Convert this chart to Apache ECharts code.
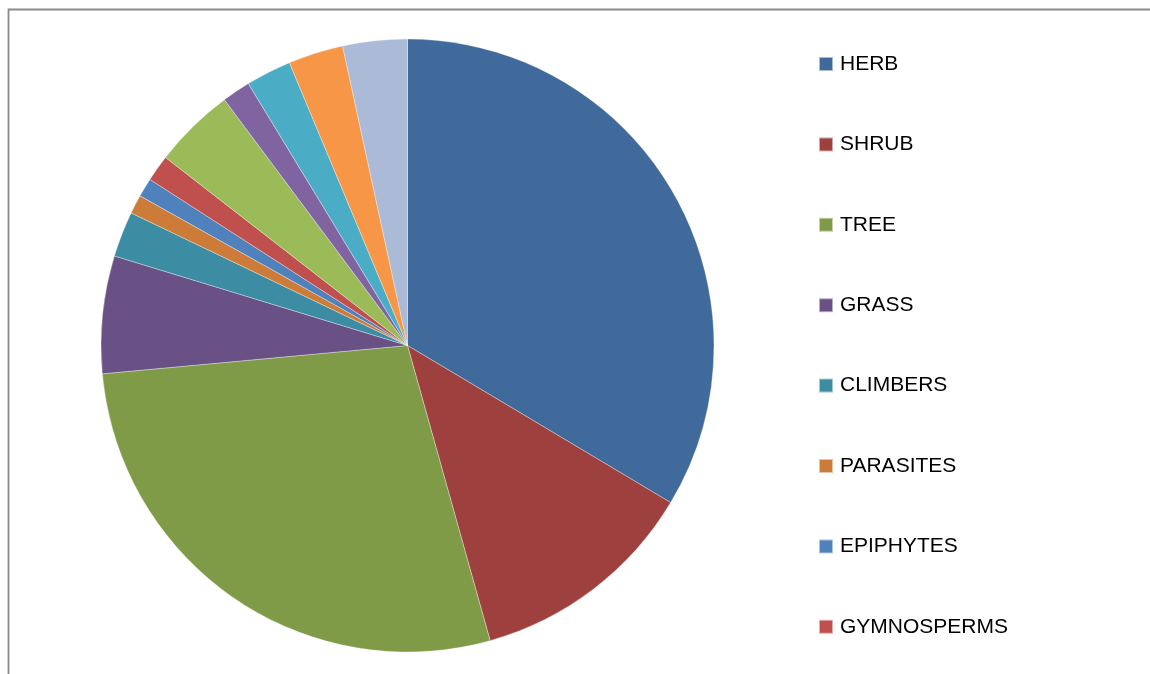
<!DOCTYPE html>
<html>
<head>
<meta charset="utf-8">
<script src="https://cdn.jsdelivr.net/npm/echarts@6/dist/echarts.min.js"></script>
<style>
html,body{margin:0;padding:0;background:#fff;}
#chart{width:1150px;height:674px;}
</style>
</head>
<body>
<div id="chart"></div>
<script>
// Categories (only the first 8 are visible in the legend of the original chart)
const categories = ['HERB','SHRUB','TREE','GRASS','CLIMBERS','PARASITES','EPIPHYTES','GYMNOSPERMS',
                    'CATEGORY 9','CATEGORY 10','CATEGORY 11','CATEGORY 12','CATEGORY 13'];
// Share of each category (%)
const values = [33.6, 12.1, 27.9, 6.2, 2.4, 1.0, 1.0, 1.4, 4.3, 1.5, 2.4, 2.9, 3.4];
const legendNames = categories.slice(0, 8);
const colors = ['#416A9C','#9E413E','#7F9B47','#695186','#3C8DA3','#CC7B38','#4F81BD','#C0504D',
                '#9BBB59','#8064A2','#4BACC6','#F79646','#AABAD7'];

const chart = echarts.init(document.getElementById('chart'), null, {renderer:'canvas'});
chart.setOption({
  animation: false,
  color: colors,
  graphic: [{
    type: 'polyline',
    shape: { points: [[8.5, 700], [8.5, 9.5], [1200, 9.5]] },
    style: { stroke: '#8a8a8a', lineWidth: 1.8, fill: null },
    silent: true
  }],
  legend: {
    orient: 'vertical',
    left: 818,
    top: 53.5,
    height: 640,
    padding: 0,
    itemWidth: 14,
    itemHeight: 14,
    itemGap: 59.4,
    icon: 'rect',
    data: legendNames,
    selectedMode: false,
    textStyle: {
      fontFamily: 'Liberation Sans, Arial, sans-serif',
      fontSize: 21,
      color: '#000',
      padding: [0, 0, 0, 2]
    }
  },
  series: [{
    type: 'pie',
    center: [407.5, 345.5],
    radius: 306.5,
    startAngle: 90,
    clockwise: true,
    label: { show: false },
    labelLine: { show: false },
    itemStyle: { borderColor: 'rgba(255,255,255,0.55)', borderWidth: 0.6 },
    emphasis: { disabled: true },
    data: categories.map((n, i) => ({ name: n, value: values[i] }))
  }]
});
</script>
</body>
</html>
